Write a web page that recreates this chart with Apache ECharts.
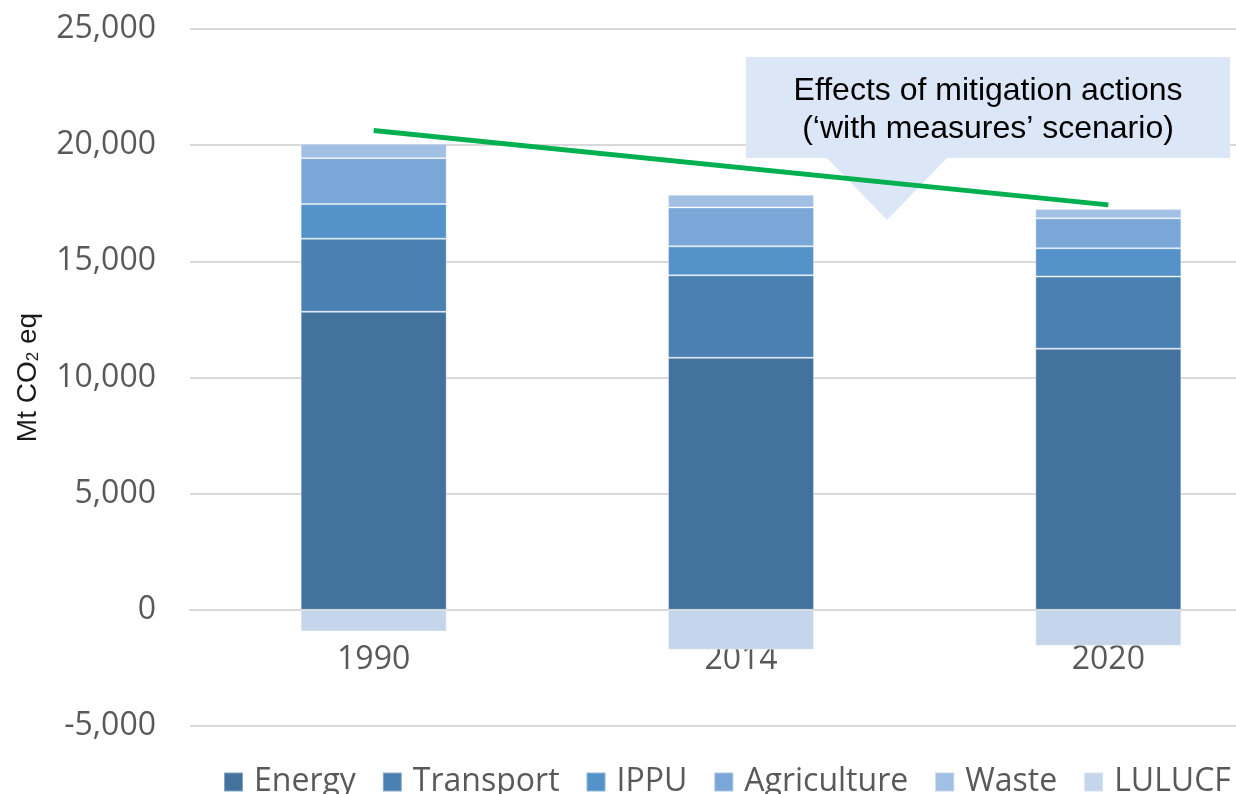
<!DOCTYPE html>
<html>
<head>
<meta charset="utf-8">
<script src="https://cdn.jsdelivr.net/npm/echarts@6/dist/echarts.min.js"></script>
<style>
  html, body { margin: 0; padding: 0; background: #fff; overflow: hidden; }
  /* the plot runs past the right edge of the picture, as in the original */
  #chart { width: 1292px; height: 794px; }
</style>
</head>
<body>
<div id="chart"></div>
<script>
// data (Mt CO2 eq)
const years = ['1990', '2014', '2020'];
const energy = [12830, 10850, 11240];
const transport = [3145, 3550, 3105];
const ippu = [1490, 1245, 1215];
const agriculture = [1975, 1675, 1290];
const waste = [625, 545, 405];
const lulucf = [-930, -1720, -1550];
// green trend line ('with measures' effect), only ends are drawn
const trend = [20630, null, 17430];

const colors = ['#43729e', '#4b80b2', '#5592c9', '#7aa7d8', '#a2bfe4', '#c5d5eb'];
const names = ['Energy', 'Transport', 'IPPU', 'Agriculture', 'Waste', 'LULUCF'];
const values = [energy, transport, ippu, agriculture, waste, lulucf];

const chart = echarts.init(document.getElementById('chart'));

const barSeries = names.map((n, i) => ({
  name: n,
  type: 'bar',
  stack: 'total',
  barWidth: 146,
  data: values[i],
  itemStyle: {
    color: colors[i],
    borderColor: 'rgba(255,255,255,0.35)',
    borderWidth: 1
  },
  emphasis: { disabled: true }
}));

const option = {
  animation: false,
  color: colors,
  grid: {
    left: 190,
    right: 0,
    top: 29,
    bottom: 68,
    containLabel: false
  },
  legend: {
    data: names,
    left: 223,
    top: 766,
    padding: 0,
    icon: 'rect',
    itemWidth: 19,
    itemHeight: 19,
    itemGap: 26,
    textStyle: {
      fontFamily: 'Open Sans',
      fontSize: 32,
      color: '#595959',
      padding: [0, 0, 0, 6]
    }
  },
  xAxis: {
    type: 'category',
    data: years,
    axisTick: { show: false },
    axisLine: {
      lineStyle: { color: '#d9d9d9', width: 2 }
    },
    axisLabel: {
      fontFamily: 'Open Sans',
      fontSize: 32,
      color: '#595959',
      margin: -82
    }
  },
  yAxis: {
    type: 'value',
    min: -5000,
    max: 25000,
    interval: 5000,
    name: 'Mt CO{sub|2} eq',
    nameLocation: 'middle',
    nameRotate: 90,
    nameGap: 148,
    nameTextStyle: {
      fontFamily: 'Liberation Sans',
      fontSize: 28,
      color: '#1a1a1a',
      rich: {
        sub: {
          fontFamily: 'Liberation Sans',
          fontSize: 17,
          color: '#1a1a1a',
          verticalAlign: 'bottom',
          padding: [10, 0, 0, 0]
        }
      }
    },
    axisLine: { show: false },
    axisTick: { show: false },
    axisLabel: {
      fontFamily: 'Open Sans',
      fontSize: 32,
      color: '#595959',
      margin: 34,
      formatter: v => v.toLocaleString('en-US')
    },
    splitLine: {
      lineStyle: { color: '#d9d9d9', width: 2 }
    }
  },
  graphic: [
    {
      type: 'polygon',
      z: 1,
      shape: {
        points: [[746, 57], [1230, 57], [1230, 158], [947, 158], [887, 220], [827, 158], [746, 158]]
      },
      style: { fill: '#dbe7f6' }
    },
    {
      type: 'text',
      z: 1,
      x: 988,
      y: 72,
      style: {
        text: 'Effects of mitigation actions\n(\u2018with measures\u2019 scenario)',
        fontFamily: 'Liberation Sans',
        fontSize: 32,
        lineHeight: 38,
        textAlign: 'center',
        fill: '#000'
      }
    }
  ],
  series: barSeries.concat([{
    name: 'trend',
    type: 'line',
    data: trend,
    connectNulls: true,
    symbol: 'none',
    z: 5,
    lineStyle: { color: '#00b050', width: 5 },
    emphasis: { disabled: true }
  }])
};

chart.setOption(option);
</script>
</body>
</html>
